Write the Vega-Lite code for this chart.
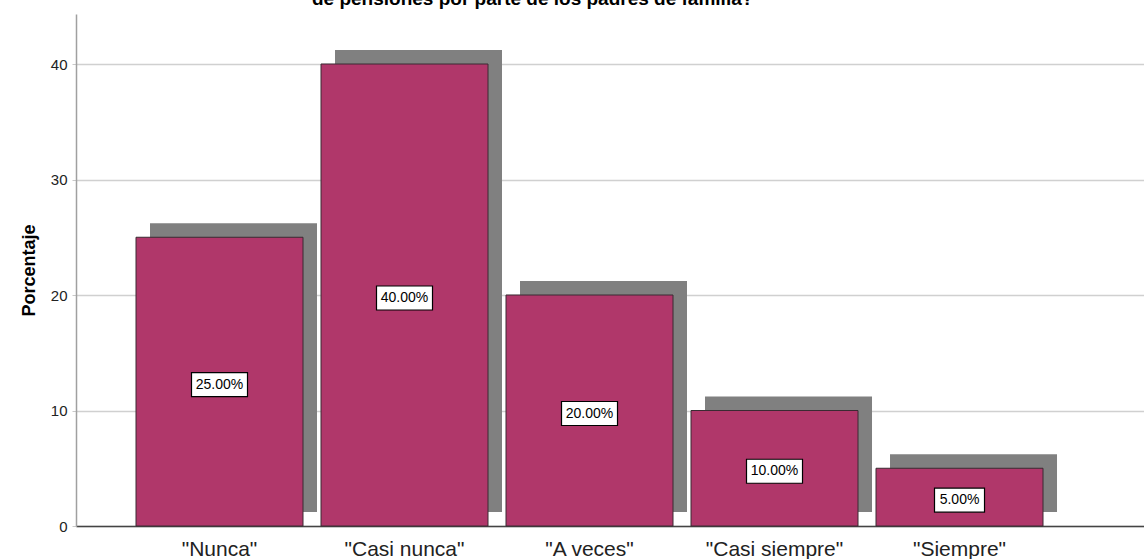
{
  "$schema": "https://vega.github.io/schema/vega-lite/v6.json",
  "width": 1068,
  "height": 512,
  "autosize": {"type": "none"},
  "padding": {"left": 76, "top": 14, "right": 0, "bottom": 33},
  "background": "white",
  "title": {
    "text": "de pensiones por parte de los padres de familia?",
    "anchor": "start",
    "frame": "group",
    "dx": 236,
    "dy": 10,
    "offset": 0,
    "baseline": "alphabetic",
    "font": "Liberation Sans",
    "fontSize": 19,
    "fontWeight": "bold",
    "color": "#000000"
  },
  "config": {
    "view": {"stroke": null},
    "font": "Liberation Sans"
  },
  "data": {
    "values": [
      {"cat": "\"Nunca\"", "pct": 25, "label": "25.00%"},
      {"cat": "\"Casi nunca\"", "pct": 40, "label": "40.00%"},
      {"cat": "\"A veces\"", "pct": 20, "label": "20.00%"},
      {"cat": "\"Casi siempre\"", "pct": 10, "label": "10.00%"},
      {"cat": "\"Siempre\"", "pct": 5, "label": "5.00%"}
    ]
  },
  "encoding": {
    "x": {
      "field": "cat",
      "type": "nominal",
      "sort": null,
      "scale": {"paddingInner": 0.0973, "paddingOuter": 0.4351, "align": 0.3727},
      "axis": {
        "title": null,
        "labelAngle": 0,
        "ticks": false,
        "labelPadding": 12,
        "labelFontSize": 21,
        "labelColor": "#222222",
        "labelFont": "Liberation Sans",
        "domainColor": "#444444",
        "domainWidth": 1.5
      }
    },
    "y": {
      "field": "pct",
      "type": "quantitative",
      "scale": {"domain": [0, 44.33], "nice": false},
      "axis": {
        "title": "Porcentaje",
        "titleFontSize": 18,
        "titleFontWeight": "bold",
        "titleColor": "#000000",
        "titleFont": "Liberation Sans",
        "titlePadding": 12,
        "values": [0, 10, 20, 30, 40],
        "labelFontSize": 15,
        "labelColor": "#222222",
        "labelPadding": 5,
        "tickSize": 4,
        "tickColor": "#c8c8c8",
        "domainColor": "#a0a0a0",
        "domainWidth": 1.5,
        "grid": true,
        "gridColor": "#d0d0d0",
        "gridWidth": 1.5
      }
    }
  },
  "layer": [
    {
      "mark": {"type": "bar", "color": "#808080", "xOffset": 14, "yOffset": -14, "y2Offset": -14}
    },
    {
      "mark": {"type": "bar", "color": "#b0376a", "stroke": "#3a2a32", "strokeWidth": 1}
    },
    {
      "mark": {"type": "point", "filled": true, "fill": "white", "stroke": "#000000", "strokeWidth": 1.2, "opacity": 1, "size": 3136, "yOffset": 3},
      "encoding": {
        "y": {"field": "mid", "type": "quantitative"},
        "shape": {
          "condition": {"test": "datum.pct < 10", "value": "M-0.893,-0.4286L0.893,-0.4286L0.893,0.4286L-0.893,0.4286Z"},
          "value": "M-1,-0.4286L1,-0.4286L1,0.4286L-1,0.4286Z"
        }
      },
      "transform": [{"calculate": "datum.pct / 2", "as": "mid"}]
    },
    {
      "mark": {"type": "text", "fontSize": 14, "color": "#000000", "baseline": "middle", "align": "center", "yOffset": 3},
      "encoding": {
        "y": {"field": "mid", "type": "quantitative"},
        "text": {"field": "label"}
      },
      "transform": [{"calculate": "datum.pct / 2", "as": "mid"}]
    }
  ]
}
